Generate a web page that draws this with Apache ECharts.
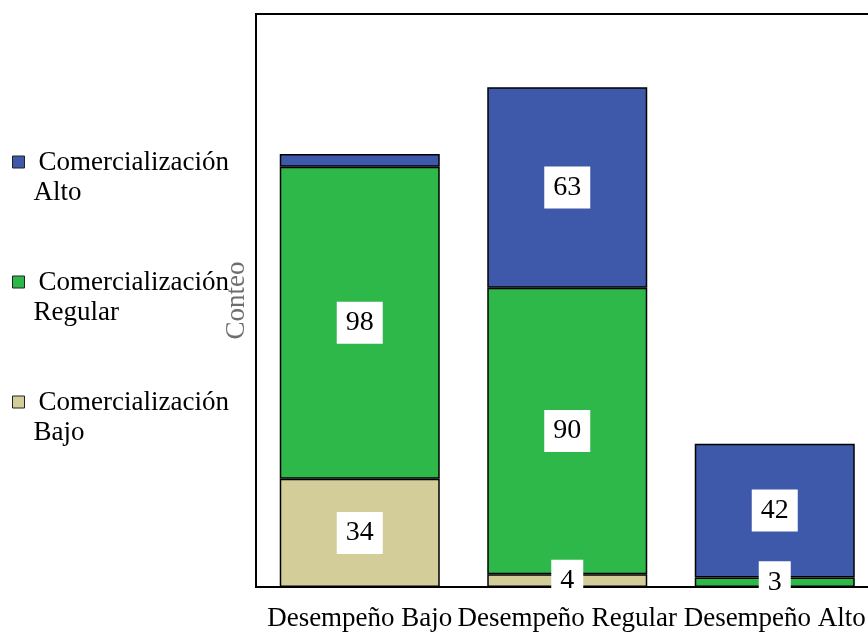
<!DOCTYPE html>
<html>
<head>
<meta charset="utf-8">
<script src="https://cdn.jsdelivr.net/npm/echarts@6/dist/echarts.min.js"></script>
<style>
  html, body { margin: 0; padding: 0; background: #fff; }
  #chart { width: 868px; height: 634px; }
</style>
</head>
<body>
<div id="chart"></div>
<script>
// Categories along the x axis
const categories = ['Desempeño Bajo', 'Desempeño Regular', 'Desempeño Alto'];

// Counts per commercialization level, stacked bottom to top
const seriesNames = ['Comercialización Bajo', 'Comercialización Regular', 'Comercialización Alto'];
const countsBajo = [34, 4, null];
const countsRegular = [98, 90, 3];
const countsAlto = [4, 63, 42];

// Segments whose value label is left out (too thin to carry one)
const hiddenLabels = { 'Comercialización Alto': [0] };

const colors = {
  'Comercialización Bajo': '#d3ce99',
  'Comercialización Regular': '#2eb84a',
  'Comercialización Alto': '#3e58aa'
};

const FONT = '"Liberation Serif", "Times New Roman", serif';

function buildData(name, values) {
  const hide = hiddenLabels[name] || [];
  return values.map((v, i) => hide.includes(i) ? { value: v, label: { show: false } } : v);
}

function makeSeries(name, values) {
  return {
    name: name,
    type: 'bar',
    stack: 'total',
    barWidth: 160,
    data: buildData(name, values),
    itemStyle: { color: colors[name], borderColor: '#000', borderWidth: 1.5 },
    label: {
      show: true,
      position: 'inside',
      color: '#000',
      fontFamily: FONT,
      fontSize: 28,
      lineHeight: 30,
      backgroundColor: '#fff',
      padding: [6, 9, 6, 9]
    }
  };
}

const chart = echarts.init(document.getElementById('chart'), null, { renderer: 'canvas' });

chart.setOption({
  backgroundColor: '#fff',
  animation: false,
  grid: {
    left: 256,
    top: 14,
    bottom: 47,
    width: 622.5,
    outerBoundsMode: 'none',
    containLabel: false,
    show: true,
    borderColor: '#000',
    borderWidth: 2,
    backgroundColor: 'transparent'
  },
  legend: {
    orient: 'vertical',
    left: 12,
    top: 116,
    padding: 0,
    itemWidth: 12,
    itemHeight: 12,
    itemGap: 28,
    icon: 'rect',
    data: ['Comercialización Alto', 'Comercialización Regular', 'Comercialización Bajo'],
    itemStyle: { borderColor: '#222', borderWidth: 1 },
    formatter: function (name) {
      const parts = name.split(' ');
      return '{a|' + parts[0] + '}\n{b|' + parts.slice(1).join(' ') + '}';
    },
    textStyle: {
      color: '#000',
      fontFamily: FONT,
      fontSize: 27,
      lineHeight: 30,
      padding: [32, 0, 0, 4],
      rich: {
        a: { fontFamily: FONT, fontSize: 27, lineHeight: 30, color: '#000', padding: [0, 0, 0, 5] },
        b: { fontFamily: FONT, fontSize: 27, lineHeight: 30, color: '#000' }
      }
    }
  },
  xAxis: {
    type: 'category',
    data: categories,
    axisLine: { show: false },
    axisTick: { show: false },
    axisLabel: {
      color: '#000',
      fontFamily: FONT,
      fontSize: 27,
      margin: 18,
      interval: 0
    }
  },
  yAxis: {
    type: 'value',
    min: 0,
    max: 180,
    name: 'Conteo',
    nameLocation: 'middle',
    nameGap: 6,
    nameTextStyle: { color: '#6e6e6e', fontFamily: FONT, fontSize: 27 },
    axisLine: { show: false },
    axisTick: { show: false },
    axisLabel: { show: false },
    splitLine: { show: false }
  },
  series: [
    makeSeries('Comercialización Bajo', countsBajo),
    makeSeries('Comercialización Regular', countsRegular),
    makeSeries('Comercialización Alto', countsAlto)
  ]
});
</script>
</body>
</html>
